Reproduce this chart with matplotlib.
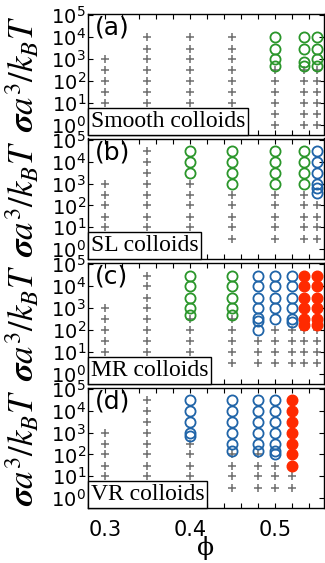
import matplotlib
matplotlib.use('Agg')
import matplotlib.pyplot as plt
from matplotlib.offsetbox import AnchoredText
from matplotlib.ticker import MultipleLocator, FixedLocator, NullLocator

# panel tags and box captions
panel_tags = ['(a)', '(b)', '(c)', '(d)']
panel_names = ['Smooth colloids', 'SL colloids', 'MR colloids', 'VR colloids']

# sigma a^3 / kT values per volume fraction column
# (a) smooth
a_plus = {0.3: [10, 30, 100, 300, 1000],
          0.35: [10, 30, 100, 300, 1000, 3000, 10000],
          0.4: [10, 30, 100, 300, 1000, 3000, 10000],
          0.45: [10, 30, 100, 300, 1000, 3000, 10000],
          0.5: [1, 3, 10, 30, 100, 300],
          0.535: [1, 3, 10, 30, 100, 300],
          0.55: [1, 3, 10, 30, 100, 300]}
a_green = {0.5: [500, 1000, 3000, 10000],
           0.535: [500, 750, 3000, 10000],
           0.55: [500, 1000, 3000, 10000]}
a_blue = {}
a_red = {}

# (b) SL
b_plus = {0.3: [10, 30, 100, 300, 1000],
          0.35: [10, 30, 100, 300, 1000, 3000, 10000, 30000],
          0.4: [10, 30, 100, 300, 1000],
          0.45: [3, 10, 30, 100, 300],
          0.5: [3, 10, 30, 100, 300],
          0.535: [3, 10, 30, 100, 300],
          0.55: [3, 10, 30, 100]}
b_green = {0.4: [3000, 10000, 30000],
           0.45: [1000, 3000, 10000, 30000],
           0.5: [1000, 3000, 10000, 30000],
           0.535: [1000, 3000, 10000, 30000]}
b_blue = {0.55: [350, 600, 1000, 3000, 10000, 30000]}
b_red = {}

# (c) MR
c_plus = {0.3: [10, 30, 100, 300, 1000],
          0.35: [10, 30, 100, 300, 1000, 3000, 10000, 30000],
          0.4: [10, 30, 100, 300],
          0.45: [3, 10, 30, 100, 300],
          0.48: [3, 10, 30],
          0.5: [3, 10, 30, 100],
          0.52: [3, 10, 30, 100],
          0.535: [3, 10, 30, 100],
          0.55: [3, 10, 30, 100]}
c_green = {0.4: [500, 1000, 3000, 10000, 30000],
           0.45: [500, 1000, 3000, 10000, 30000]}
c_blue = {0.48: [100, 250, 350, 1000, 3000, 10000, 30000],
          0.5: [300, 1000, 3000, 10000, 30000],
          0.52: [230, 330, 1000, 3000, 10000, 30000]}
c_red = {0.535: [170, 300, 1000, 3000, 10000, 30000],
         0.55: [170, 300, 1000, 3000, 10000, 30000]}

# (d) VR
d_plus = {0.3: [10, 30, 100, 300, 1000],
          0.35: [10, 30, 100, 300, 1000, 3000, 10000, 30000],
          0.4: [10, 30, 100, 300],
          0.45: [3, 10, 30, 100],
          0.48: [3, 10, 30, 100],
          0.5: [3, 10, 30],
          0.52: [3, 10]}
d_green = {}
d_blue = {0.4: [700, 1000, 3000, 10000, 30000],
          0.45: [150, 300, 1000, 3000, 10000, 30000],
          0.48: [150, 300, 1000, 3000, 10000, 30000],
          0.5: [100, 140, 300, 1000, 3000, 10000, 30000]}
d_red = {0.52: [30, 100, 300, 1000, 3000, 10000, 30000]}

plus_sets = [a_plus, b_plus, c_plus, d_plus]
green_sets = [a_green, b_green, c_green, d_green]
blue_sets = [a_blue, b_blue, c_blue, d_blue]
red_sets = [a_red, b_red, c_red, d_red]

GRAY = '#6e6e6e'
GREEN = '#2a962a'
BLUE = '#1f64a8'
RED = '#ff2a00'


def draw(ax, groups, **style):
    for phi, vals in groups.items():
        ax.plot([phi] * len(vals), vals, ls='none', **style)


fig = plt.figure(figsize=(3.25, 5.63), dpi=100)
W, H = 325.0, 563.0
left, width = 88 / W, 236 / W
tops = [14, 138.5, 263, 387.5]
ph = 120.5

for i in range(4):
    ax = fig.add_axes([left, 1 - (tops[i] + ph) / H, width, ph / H])
    ax.set_yscale('log')
    ax.set_xlim(0.28, 0.558)
    ax.set_ylim(0.35, 1.15e5)

    draw(ax, plus_sets[i], marker='+', ms=5.5, mew=1.1, color=GRAY)
    draw(ax, green_sets[i], marker='o', ms=7.3, mfc='none', mew=1.3, mec=GREEN)
    draw(ax, blue_sets[i], marker='o', ms=7.3, mfc='none', mew=1.3, mec=BLUE)
    draw(ax, red_sets[i], marker='o', ms=7.6, mfc=RED, mew=1.0, mec=RED)

    ax.yaxis.set_major_locator(FixedLocator([1, 10, 100, 1e3, 1e4, 1e5]))
    ax.yaxis.set_minor_locator(NullLocator())
    ax.xaxis.set_major_locator(FixedLocator([0.3, 0.4, 0.5]))
    ax.xaxis.set_minor_locator(MultipleLocator(0.02))
    ax.tick_params(which='both', direction='in', top=True, right=True,
                   length=3.5, width=0.8)
    ax.tick_params(axis='y', labelsize=14, pad=1.5)
    ax.tick_params(axis='x', labelsize=15, pad=9)
    for s in ax.spines.values():
        s.set_linewidth(1.0)

    if i < 3:
        ax.set_xticklabels([])
    else:
        ax.set_xlabel('ϕ', fontsize=18, family='DejaVu Serif', labelpad=-3)

    ax.text(0.03, 0.985, panel_tags[i], transform=ax.transAxes,
            ha='left', va='top', fontsize=18)

    at = AnchoredText(panel_names[i], loc='lower left', pad=0.12, borderpad=0,
                      prop=dict(family='Liberation Serif', size=17))
    at.patch.set_edgecolor('black')
    at.patch.set_linewidth(1.0)
    ax.add_artist(at)

    ax.text(-0.28, 0.5, r'$\boldsymbol{\sigma} a^3/k_BT$', transform=ax.transAxes,
            rotation=90, ha='center', va='center', fontsize=25,
            math_fontfamily='stix')

fig.savefig('out.png', dpi=100)
